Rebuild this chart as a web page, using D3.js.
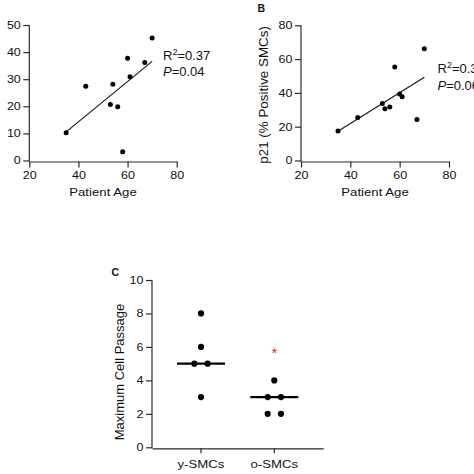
<!DOCTYPE html>
<html><head><meta charset="utf-8">
<script src="https://cdn.jsdelivr.net/npm/d3@7"></script>
<style>
body{margin:0;background:#fff;}
svg{display:block;font-family:"Liberation Sans",Arial,sans-serif;}
</style></head>
<body>
<svg id="c" width="474" height="474"></svg>
<script>
// ---- data ----
const ages = [35, 43, 53, 54, 56, 58, 60, 61, 67, 70];
const senA = [10.2, 27.4, 20.7, 28.1, 19.8, 3.2, 37.7, 30.9, 36.2, 45.2];
const p21B = [17.4, 25.5, 33.8, 30.6, 31.6, 55.3, 39.3, 37.7, 24.3, 66.1];
const ticksAgeX = [20, 40, 60, 80];
const ticksAY = [0, 10, 20, 30, 40, 50];
const ticksBY = [0, 20, 40, 60, 80];
const statsA = ["0.37", "0.04"];
const statsB = ["0.36", "0.06"];
const groups = ["y-SMCs", "o-SMCs"];
const passY = [8, 6, 5, 5, 3];
const passO = [4, 3, 3, 2, 2];
const ticksCY = [0, 2, 4, 6, 8, 10];
const starValue = 5.85;

const svg = d3.select("#c");
const AX = "#2a2a2a";
const SX = 1.18; // horizontal stretch of small text in reference

function stretch(sel, k) {
  sel.each(function () {
    const t = d3.select(this);
    const x0 = +t.attr("x") || 0;
    t.attr("transform", `translate(${x0 * (1 - k)},0) scale(${k},1)`);
  });
}
function styleAxis(g) {
  g.select(".domain").attr("stroke", AX).attr("stroke-width", 1.2);
  g.selectAll(".tick line").attr("stroke", AX).attr("stroke-width", 1.2);
  g.selectAll(".tick text").attr("fill", "#111").attr("font-size", 10.6)
    .attr("font-family", "Liberation Sans, Arial, sans-serif");
  stretch(g.selectAll(".tick text"), SX);
}
function linreg(xs, ys) {
  const mx = d3.mean(xs), my = d3.mean(ys);
  let sxy = 0, sxx = 0;
  xs.forEach((x, i) => { sxy += (x - mx) * (ys[i] - my); sxx += (x - mx) * (x - mx); });
  const b = sxy / sxx;
  return x => my + b * (x - mx);
}

function scatterPanel(opt) {
  const x = d3.scaleLinear().domain([20, 80]).range([opt.x0, opt.x1]);
  const y = d3.scaleLinear().domain([0, opt.ymax]).range([opt.yb, opt.yt]);
  const g = svg.append("g");
  const gx = g.append("g").attr("transform", `translate(0,${opt.yb + 1})`)
    .call(d3.axisBottom(x).tickValues(ticksAgeX).tickSize(6).tickSizeOuter(0).tickPadding(4));
  styleAxis(gx);
  const gy = g.append("g").attr("transform", `translate(${opt.x0},0)`)
    .call(d3.axisLeft(y).tickValues(opt.ticks).tickSize(6).tickSizeOuter(0).tickPadding(2.5));
  styleAxis(gy);
  gy.select(".domain").attr("d", `M0,${opt.yt}V${opt.yb + 1}`);

  const f = linreg(ages, opt.vals);
  const ex = d3.extent(ages);
  g.append("line").attr("x1", x(ex[0])).attr("x2", x(ex[1]))
    .attr("y1", y(f(ex[0]))).attr("y2", y(f(ex[1])))
    .attr("stroke", "#111").attr("stroke-width", 1.1);
  g.selectAll("circle.d").data(ages).join("circle")
    .attr("cx", d => x(d)).attr("cy", (d, i) => y(opt.vals[i])).attr("r", 2.5).attr("fill", "#000");

  const lab = g.append("text").attr("x", (opt.x0 + opt.x1) / 2).attr("y", opt.yb + 36)
    .attr("text-anchor", "middle").attr("font-size", 11.2).attr("fill", "#111").text("Patient Age");
  stretch(lab, SX);

  const t1 = g.append("text").attr("x", opt.sx).attr("y", opt.sy).attr("font-size", 13).attr("fill", "#111");
  t1.append("tspan").text("R");
  t1.append("tspan").attr("font-size", 9).attr("dy", -5).text("2");
  t1.append("tspan").attr("dy", 5).text("=" + opt.stats[0]);
  const t2 = g.append("text").attr("x", opt.sx).attr("y", opt.sy + 16.5).attr("font-size", 13).attr("fill", "#111");
  t2.append("tspan").attr("font-style", "italic").text("P");
  t2.append("tspan").text("=" + opt.stats[1]);

  if (opt.ylabel) {
    g.append("text").attr("transform", `translate(${opt.ylx},${(opt.yb + opt.yt) / 2 + 2}) rotate(-90)`)
      .attr("text-anchor", "middle").attr("font-size", 13.4).attr("fill", "#111").text(opt.ylabel);
  }
  if (opt.letter) {
    g.append("text").attr("x", opt.lx).attr("y", opt.ly).attr("font-size", 10.5)
      .attr("font-weight", "bold").attr("fill", "#111").text(opt.letter);
  }
}

scatterPanel({ x0: 29.3, x1: 176.7, yb: 160.5, yt: 25, ymax: 50, ticks: ticksAY, vals: senA,
  stats: statsA, sx: 163, sy: 59.5 });
scatterPanel({ x0: 301, x1: 449, yb: 160.5, yt: 25.3, ymax: 80, ticks: ticksBY, vals: p21B,
  stats: statsB, sx: 437.5, sy: 73, ylabel: "p21 (% Positive SMCs)", ylx: 267.5,
  letter: "B", lx: 257.5, ly: 11.8 });

// ---- panel C ----
(function () {
  const x = d3.scaleBand().domain(groups).range([152, 323.3]).paddingInner(0).paddingOuter(0.168);
  const y = d3.scaleLinear().domain([0, 10]).range([447.3, 280]);
  const g = svg.append("g");
  const gx = g.append("g").attr("transform", "translate(0,448.3)")
    .call(d3.axisBottom(x).tickSize(5).tickSizeOuter(0).tickPadding(7));
  styleAxis(gx);
  gx.selectAll(".tick text").attr("font-size", 11.2);
  const gy = g.append("g").attr("transform", "translate(152,0)")
    .call(d3.axisLeft(y).tickValues(ticksCY).tickSize(6).tickSizeOuter(0).tickPadding(2.5));
  styleAxis(gy);
  gy.select(".domain").attr("d", "M0,280V448.3");

  const sets = [passY, passO];
  const sp = 13.3;
  sets.forEach((vals, gi) => {
    const cx = x(groups[gi]) + x.bandwidth() / 2;
    const counts = d3.rollup(vals, v => v.length, v => v);
    const seen = new Map();
    const pts = vals.map(v => {
      const n = counts.get(v), k = seen.get(v) || 0; seen.set(v, k + 1);
      return { v, dx: (k - (n - 1) / 2) * sp };
    });
    g.append("g").selectAll("circle").data(pts).join("circle")
      .attr("cx", d => cx + d.dx).attr("cy", d => y(d.v)).attr("r", 3.1).attr("fill", "#000");
    const m = d3.median(vals);
    g.append("line").attr("x1", cx - 24).attr("x2", cx + 24).attr("y1", y(m)).attr("y2", y(m))
      .attr("stroke", "#000").attr("stroke-width", 2.2);
  });
  // significance star
  g.append("text").attr("x", x("o-SMCs") + x.bandwidth() / 2).attr("y", y(starValue) + 8.5)
    .attr("text-anchor", "middle").attr("font-size", 15).attr("fill", "#e0302c").text("*");

  g.append("text").attr("transform", "translate(124,372) rotate(-90)")
    .attr("text-anchor", "middle").attr("font-size", 13).attr("fill", "#111").text("Maximum Cell Passage");
  g.append("text").attr("x", 111.5).attr("y", 275.7).attr("font-size", 10.5)
    .attr("font-weight", "bold").attr("fill", "#111").text("C");
})();
</script>
</body></html>
